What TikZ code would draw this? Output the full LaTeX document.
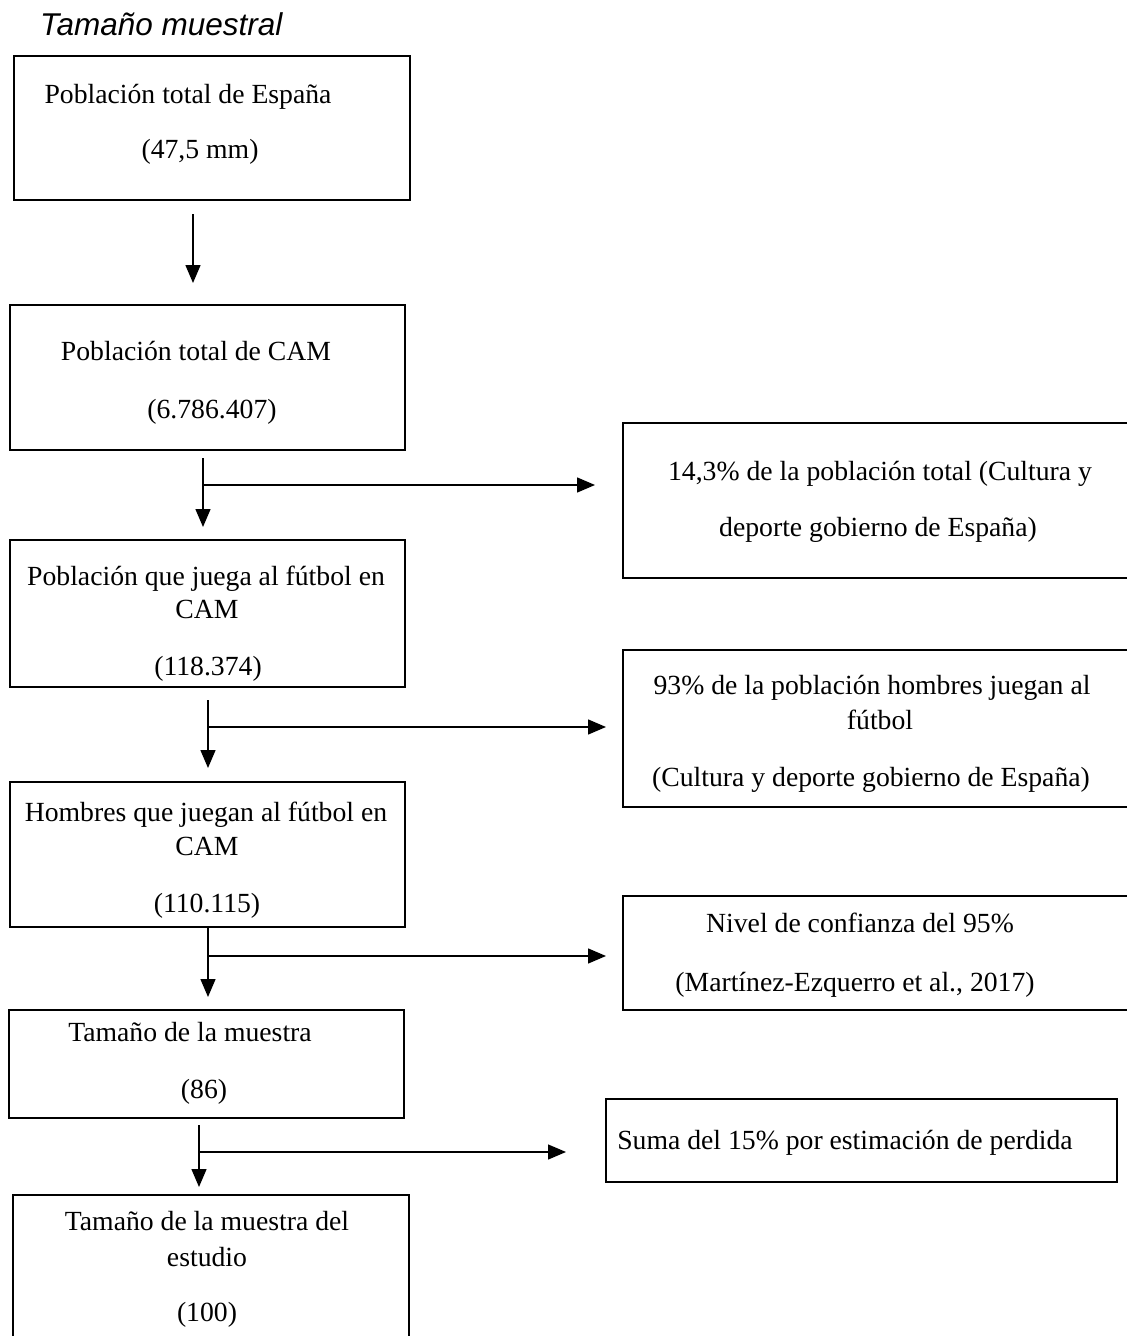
\documentclass[tikz,border=0pt]{standalone}
\usepackage{fontspec}
\newfontfamily\tnr{Liberation Serif}
\newfontfamily\arl{Liberation Sans}
\usetikzlibrary{arrows.meta}
\tikzset{
  boxnode/.style={draw, line width=1.3pt, inner sep=0pt, outer sep=0pt, anchor=north west},
  txt/.style={font=\tnr\fontsize{27.7}{33}\selectfont, inner sep=0pt, anchor=base},
  arr/.style={line width=1.4pt, -{Triangle[length=18pt,width=15pt]}},
  ln/.style={line width=1.4pt}
}
\begin{document}
\begin{tikzpicture}[x=1pt,y=-1pt]
\useasboundingbox (0,0) rectangle (1127,1336);
\fill[white] (0,0) rectangle (1127,1336);
\clip (0,0) rectangle (1127,1336);

% title
\node[font=\arl\itshape\fontsize{31.5}{36}\selectfont, inner sep=0pt, anchor=base west] (title) at (40,35) {Tamaño muestral};

% boxes
\node[boxnode, minimum width=396pt, minimum height=144pt] (b1) at (14,56) {};
\node[boxnode, minimum width=395pt, minimum height=145pt] (b2) at (10,305) {};
\node[boxnode, minimum width=520pt, minimum height=155pt] (bA) at (623,423) {};
\node[boxnode, minimum width=395pt, minimum height=147pt] (b3) at (10,540) {};
\node[boxnode, minimum width=520pt, minimum height=157pt] (bB) at (623,650) {};
\node[boxnode, minimum width=395pt, minimum height=145pt] (b4) at (10,782) {};
\node[boxnode, minimum width=520pt, minimum height=114pt] (bC) at (623,896) {};
\node[boxnode, minimum width=395pt, minimum height=108pt] (b5) at (9,1010) {};
\node[boxnode, minimum width=511pt, minimum height=83pt] (bD) at (606,1099) {};
\node[boxnode, minimum width=396pt, minimum height=170pt] (b6) at (13,1195) {};

% texts
\node[txt] (t1a) at (188,103) {Población total de España};
\node[txt] (t1b) at (200,158) {(47,5 mm)};
\node[txt] (t2a) at (196,360) {Población total de CAM};
\node[txt] (t2b) at (212,418) {(6.786.407)};
\node[txt] (tAa) at (880,480) {14,3\% de la población total (Cultura y};
\node[txt] (tAb) at (878,536) {deporte gobierno de España)};
\node[txt] (t3a) at (206,585) {Población que juega al fútbol en};
\node[txt] (t3b) at (207,618) {CAM};
\node[txt] (t3c) at (208,675) {(118.374)};
\node[txt] (tBa) at (872,694) {93\% de la población hombres juegan al};
\node[txt] (tBb) at (880,729) {fútbol};
\node[txt] (tBc) at (871,786) {(Cultura y deporte gobierno de España)};
\node[txt] (t4a) at (206,821) {Hombres que juegan al fútbol en};
\node[txt] (t4b) at (207,855) {CAM};
\node[txt] (t4c) at (207,912) {(110.115)};
\node[txt] (tCa) at (860,932) {Nivel de confianza del 95\%};
\node[txt] (tCb) at (855,991) {(Martínez-Ezquerro et al., 2017)};
\node[txt] (t5a) at (190,1041) {Tamaño de la muestra};
\node[txt] (t5b) at (204,1098) {(86)};
\node[txt] (tDa) at (845,1149) {Suma del 15\% por estimación de perdida};
\node[txt] (t6a) at (207,1230) {Tamaño de la muestra del};
\node[txt] (t6b) at (207,1266) {estudio};
\node[txt] (t6c) at (207,1321) {(100)};

% connector start points and junctions
\coordinate (s1) at (193,214);
\coordinate (s2) at (203,458);
\coordinate (j2) at (203,485);
\coordinate (s3) at (208,700);
\coordinate (j3) at (208,727);
\coordinate (s4) at (208,927);
\coordinate (j4) at (208,956);
\coordinate (s5) at (199,1125);
\coordinate (j5) at (199,1152);

% arrows
\draw[arr, shorten >=22pt] (s1) -- (s1 |- b2.north);
\draw[arr, shorten >=13pt] (s2) -- (s2 |- b3.north);
\draw[arr, shorten >=28pt] (j2) -- (j2 -| bA.west);
\draw[arr, shorten >=14pt] (s3) -- (s3 |- b4.north);
\draw[arr, shorten >=17pt] (j3) -- (j3 -| bB.west);
\draw[arr, shorten >=13pt] (b4.south -| s4) -- (s4 |- b5.north);
\draw[arr, shorten >=17pt] (j4) -- (j4 -| bC.west);
\draw[arr, shorten >=8pt] (s5) -- (s5 |- b6.north);
\draw[arr, shorten >=40pt] (j5) -- (j5 -| bD.west);
\end{tikzpicture}
\end{document}
